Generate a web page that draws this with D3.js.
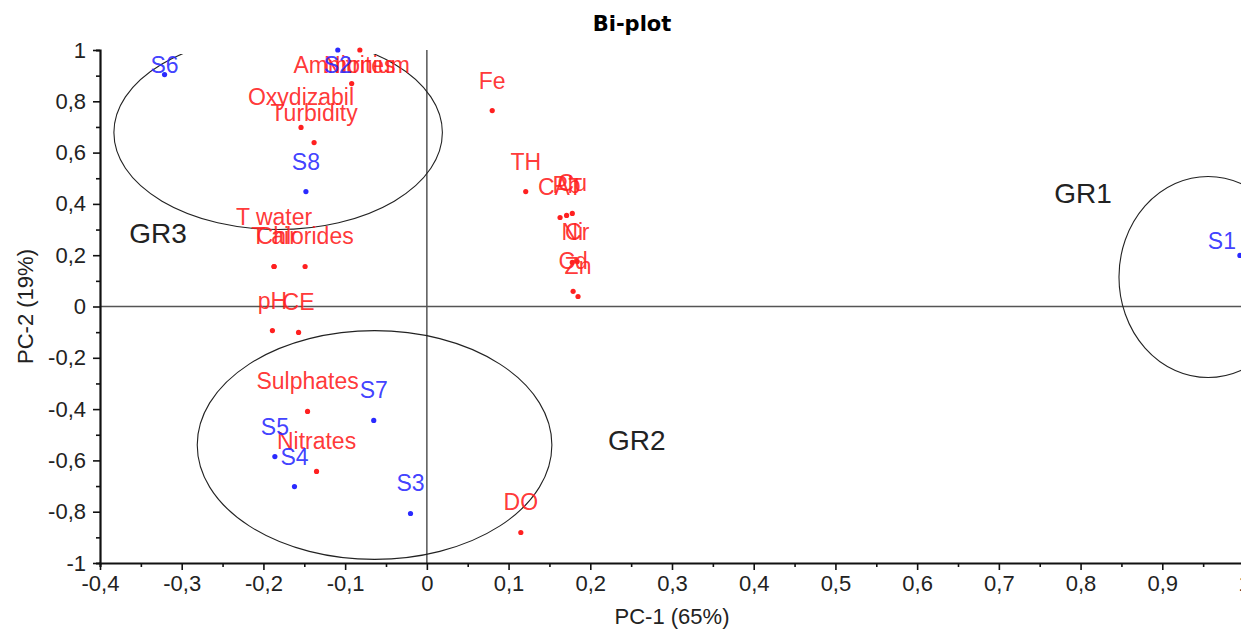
<!DOCTYPE html>
<html>
<head>
<meta charset="utf-8">
<script src="https://cdn.jsdelivr.net/npm/d3@7"></script>
<style>
  body { margin: 0; background: #fff; }
  svg { display: block; font-family: Arial, "Liberation Sans", sans-serif; }
</style>
</head>
<body>
<div id="chart"></div>
<script>
// Bi-plot (PC-1 vs PC-2): sampling sites in blue, variables in red.
const sampleNames = ["S1", "S2", "S3", "S4", "S5", "S6", "S7", "S8"];
const samplePc1 = [0.995, -0.109, -0.020, -0.162, -0.186, -0.321, -0.065, -0.148];
const samplePc2 = [0.199, 1.000, -0.807, -0.702, -0.585, 0.904, -0.444, 0.448];

const variableNames = ["Ammonium", "Nitrites", "Oxydizabil", "Turbidity", "Fe", "TH", "CAT", "Pb", "Cu",
  "Ni", "Cr", "Cd", "Zn", "T water", "T air", "Chlorides", "pH", "CE", "Sulphates", "Nitrates", "DO"];
const variablePc1 = [-0.092, -0.082, -0.154, -0.138, 0.080, 0.121, 0.163, 0.171, 0.178,
  0.178, 0.184, 0.179, 0.185, -0.187, -0.187, -0.149, -0.189, -0.157, -0.146, -0.135, 0.115];
const variablePc2 = [0.869, 1.000, 0.698, 0.639, 0.764, 0.448, 0.347, 0.355, 0.363,
  0.172, 0.175, 0.059, 0.039, 0.156, 0.156, 0.156, -0.094, -0.101, -0.409, -0.643, -0.881];

// hand-drawn groups: centre and radii in PC units, plus where the name sits
const groupNames = ["GR1", "GR2", "GR3"];
const groupCx = [0.956, -0.064, -0.182];
const groupCy = [0.115, -0.540, 0.678];
const groupRx = [0.109, 0.217, 0.201];
const groupRy = [0.392, 0.446, 0.378];
const groupLabelX = [0.803, 0.257, -0.329];
const groupLabelY = [0.441, -0.519, 0.288];

const xTicks = [-0.4, -0.3, -0.2, -0.1, 0, 0.1, 0.2, 0.3, 0.4, 0.5, 0.6, 0.7, 0.8, 0.9, 1];
const yTicks = [-1, -0.8, -0.6, -0.4, -0.2, 0, 0.2, 0.4, 0.6, 0.8, 1];

// label nudges where the original layout moved a label off its default spot
const labelNudge = { "T water": [0, -19], "S1": [-18, 16] };

const W = 1241, H = 629;
const margin = { top: 50, left: 100, bottom: 66 };
const plotRight = 1244;

const x = d3.scaleLinear().domain([-0.4, 1]).range([margin.left, plotRight]);
const y = d3.scaleLinear().domain([-1, 1]).range([H - margin.bottom, margin.top]);
const fmt = v => String(+v.toFixed(2)).replace(".", ",");

const svg = d3.select("#chart").append("svg").attr("width", W).attr("height", H);

svg.append("text")
  .attr("x", 632).attr("y", 31)
  .attr("text-anchor", "middle")
  .style("font-family", "'DejaVu Sans', Verdana, sans-serif")
  .style("font-weight", "bold").style("font-size", "21px")
  .text("Bi-plot");

svg.append("clipPath").attr("id", "plotclip").append("rect")
  .attr("x", margin.left).attr("y", y(1) + 4)
  .attr("width", W - margin.left).attr("height", y(-1) - y(1) - 4);

// zero lines
svg.append("line")
  .attr("x1", x(-0.4)).attr("x2", W).attr("y1", y(0)).attr("y2", y(0))
  .attr("stroke", "#555").attr("stroke-width", 1.5);
svg.append("line")
  .attr("x1", x(0)).attr("x2", x(0)).attr("y1", y(1)).attr("y2", y(-1))
  .attr("stroke", "#555").attr("stroke-width", 1.5);

// axes
const xAxis = svg.append("g").attr("transform", `translate(0,${y(-1)})`);
xAxis.call(d3.axisBottom(x).tickValues(d3.range(-0.4, 1.001, 0.05)).tickSize(4).tickFormat(""));
xAxis.call(g => g.selectAll(".tick").filter(d => xTicks.some(t => Math.abs(t - d) < 1e-6)).select("line").attr("y2", 7));
const xLab = svg.append("g").attr("transform", `translate(0,${y(-1)})`)
  .call(d3.axisBottom(x).tickValues(xTicks).tickSize(0).tickPadding(12).tickFormat(fmt));
xLab.select(".domain").remove();

const yAxis = svg.append("g").attr("transform", `translate(${x(-0.4)},0)`);
yAxis.call(d3.axisLeft(y).tickValues(d3.range(-1, 1.001, 0.1)).tickSize(4).tickFormat(""));
yAxis.call(g => g.selectAll(".tick").filter(d => yTicks.some(t => Math.abs(t - d) < 1e-6)).select("line").attr("x2", -7));
const yLab = svg.append("g").attr("transform", `translate(${x(-0.4)},0)`)
  .call(d3.axisLeft(y).tickValues(yTicks).tickSize(0).tickPadding(14).tickFormat(fmt));
yLab.select(".domain").remove();

svg.selectAll(".domain").attr("stroke", "#111").attr("stroke-width", 2.2);
svg.selectAll(".tick line").attr("stroke", "#111").attr("stroke-width", 1.6);
svg.selectAll(".tick text").style("font-size", "22px").attr("fill", "#222")
  .style("font-family", "Arial, 'Liberation Sans', sans-serif");

svg.append("text")
  .attr("x", 672).attr("y", 624).attr("text-anchor", "middle")
  .style("font-size", "22px").attr("fill", "#222").text("PC-1 (65%)");
svg.append("text")
  .attr("transform", `translate(33,${y(0)}) rotate(-90)`)
  .attr("text-anchor", "middle")
  .style("font-size", "22px").attr("fill", "#222").text("PC-2 (19%)");

// group ellipses
const groups = groupNames.map((name, i) => ({
  name, cx: groupCx[i], cy: groupCy[i], rx: groupRx[i], ry: groupRy[i], lx: groupLabelX[i], ly: groupLabelY[i]
}));
svg.append("g").attr("clip-path", "url(#plotclip)")
  .selectAll("ellipse").data(groups).join("ellipse")
  .attr("cx", d => x(d.cx)).attr("cy", d => y(d.cy))
  .attr("rx", d => x(d.rx) - x(0)).attr("ry", d => y(0) - y(d.ry))
  .attr("fill", "none").attr("stroke", "#222").attr("stroke-width", 1.1);
svg.append("g").selectAll("text").data(groups).join("text")
  .attr("x", d => x(d.lx)).attr("y", d => y(d.ly) + 10)
  .attr("text-anchor", "middle")
  .style("font-size", "28px").attr("fill", "#222")
  .text(d => d.name);

// points and labels
const variables = variableNames.map((name, i) => ({ name, px: variablePc1[i], py: variablePc2[i], color: "#ff2020" }));
const samples = sampleNames.map((name, i) => ({ name, px: samplePc1[i], py: samplePc2[i], color: "#2a2aff" }));
const all = variables.concat(samples);

svg.append("g").selectAll("circle").data(all).join("circle")
  .attr("cx", d => x(d.px)).attr("cy", d => y(d.py)).attr("r", 2.6)
  .attr("fill", d => d.color);

svg.append("g").selectAll("text").data(all).join("text")
  .attr("x", d => x(d.px) + (labelNudge[d.name] || [0, 0])[0])
  .attr("y", d => {
    const centre = Math.max(y(d.py) - 30 + (labelNudge[d.name] || [0, 0])[1], y(1) + 15);
    return centre + 8;
  })
  .attr("text-anchor", "middle")
  .style("font-size", "23px")
  .attr("fill", d => d.color)
  .attr("fill-opacity", 0.9)
  .text(d => d.name);
</script>
</body>
</html>
